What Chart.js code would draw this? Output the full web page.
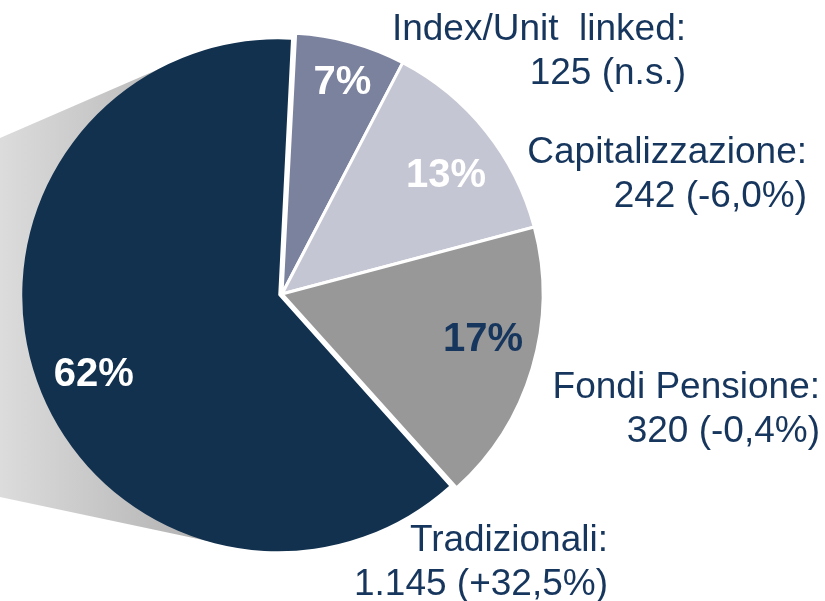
<!DOCTYPE html>
<html>
<head>
<meta charset="utf-8">
<script src="https://cdn.jsdelivr.net/npm/chart.js@4.4.1/dist/chart.umd.min.js"></script>
<style>
  html, body { margin: 0; padding: 0; background: #fff; }
  #wrap { width: 825px; height: 601px; position: relative; }
</style>
</head>
<body>
<div id="wrap"><canvas id="pieChart" width="825" height="601"></canvas></div>
<script>
// ─────────────────────────────────────────────
// Data
// ─────────────────────────────────────────────
const CATEGORIES = ["Index/Unit  linked:", "Capitalizzazione:", "Fondi Pensione:", "Tradizionali:"];
const VALUES     = [125, 242, 320, 1145];
const CHANGES    = ["n.s.", "-6,0%", "-0,4%", "+32,5%"];

// ─────────────────────────────────────────────
// Styles / layout
// ─────────────────────────────────────────────
const SLICE_COLORS  = ["#7B829E", "#C5C6D3", "#989898", "#11314F"];
const PCT_COLORS    = ["#FFFFFF", "#FFFFFF", "#17365D", "#FFFFFF"];
const SLICE_OFFSETS = [0, 0, 0, 16];  // Chart.js moves the arc by offset/4
const SLICE_BORDERS = [3, 3, 3, 0];
const SLICE_SHRINK  = [0, 0, 0, 9];   // the exploded slice is a bit smaller
const TEXT_COLOR    = "#17365D";
const FONT          = "'Liberation Sans', Arial, Helvetica, sans-serif";

// percentage label: fraction of radius + small angle nudge (deg)
const PCT_RADIUS = [0.84, 0.775, 0.79, 0.77];
const PCT_TURN   = [0.7, 2.9, -3.8, -3.9];
// category label: right edge x, first baseline y
const NAME_ANCHORS = [[686, 40], [807, 163], [820, 398], [608, 551]];
const LINE_GAP = 44;
// left "connector" shadow: where it leaves the page edge
const SHADOW_TOP = 138, SHADOW_BOTTOM = 497;

const fmtNum = v => String(v).replace(/\B(?=(\d{3})+(?!\d))/g, ".");

// round half to even (62.5 -> 62, as in the source)
function pct(v, total) {
  const x = v / total * 100;
  const f = Math.floor(x);
  if (Math.abs(x - f - 0.5) < 1e-9) return f % 2 === 0 ? f : f + 1;
  return Math.round(x);
}

// drawn arc centre and radius, incl. the explode offset
function arcGeom(el, i) {
  const mid = (el.startAngle + el.endAngle) / 2;
  const off = SLICE_OFFSETS[i] / 4;
  return {
    x: el.x + Math.cos(mid) * off,
    y: el.y + Math.sin(mid) * off,
    r: el.outerRadius + (SLICE_OFFSETS[i] ? off : 0),
    mid,
  };
}

const shrinkPlugin = {
  id: "shrink",
  afterDatasetsUpdate(chart) {
    chart.getDatasetMeta(0).data.forEach((el, i) => {
      if (SLICE_SHRINK[i]) el.outerRadius -= SLICE_SHRINK[i];
    });
  }
};

// ── grey connector behind the big slice ──
const shadowPlugin = {
  id: "shadow",
  beforeDatasetsDraw(chart) {
    const idx = VALUES.length - 1;
    const el = chart.getDatasetMeta(0).data[idx];
    if (!el) return;
    const c = arcGeom(el, idx);
    const r = c.r - 1;
    const tangent = (py, sign) => {
      const dx = c.x, dy = c.y - py;
      const d = Math.hypot(dx, dy);
      const a = Math.atan2(dy, dx) + sign * Math.asin(r / d);
      const len = Math.sqrt(d * d - r * r);
      return { x: Math.cos(a) * len, y: py + Math.sin(a) * len };
    };
    const t1 = tangent(SHADOW_TOP, -1);
    const t2 = tangent(SHADOW_BOTTOM, 1);
    const ctx = chart.ctx;
    ctx.save();
    const g = ctx.createLinearGradient(0, 0, 190, 0);
    g.addColorStop(0, "#DCDCDC");
    g.addColorStop(1, "#B4B4B4");
    ctx.fillStyle = g;
    ctx.beginPath();
    ctx.moveTo(0, SHADOW_TOP);
    ctx.lineTo(t1.x, t1.y);
    ctx.lineTo(c.x, c.y);
    ctx.lineTo(t2.x, t2.y);
    ctx.lineTo(0, SHADOW_BOTTOM);
    ctx.closePath();
    ctx.fill();
    ctx.restore();
  }
};

// ── percentages inside + category labels outside ──
const labelPlugin = {
  id: "labels",
  afterDatasetsDraw(chart) {
    const ctx = chart.ctx;
    const meta = chart.getDatasetMeta(0);
    const total = VALUES.reduce((a, b) => a + b, 0);
    ctx.save();
    meta.data.forEach((el, i) => {
      const c = arcGeom(el, i);
      const a = c.mid + PCT_TURN[i] * Math.PI / 180;
      const rr = (el.outerRadius + SLICE_SHRINK[i]) * PCT_RADIUS[i];
      ctx.font = `bold 40px ${FONT}`;
      ctx.fillStyle = PCT_COLORS[i];
      ctx.textAlign = "center";
      ctx.textBaseline = "middle";
      ctx.fillText(`${pct(VALUES[i], total)}%`, c.x + Math.cos(a) * rr, c.y + Math.sin(a) * rr);

      const [ax, ay] = NAME_ANCHORS[i];
      ctx.font = `37px ${FONT}`;
      ctx.fillStyle = TEXT_COLOR;
      ctx.textAlign = "right";
      ctx.textBaseline = "alphabetic";
      ctx.fillText(CATEGORIES[i], ax, ay);
      ctx.fillText(`${fmtNum(VALUES[i])} (${CHANGES[i]})`, ax, ay + LINE_GAP);
    });
    ctx.restore();
  }
};

new Chart(document.getElementById("pieChart"), {
  type: "pie",
  data: {
    labels: CATEGORIES,
    datasets: [{
      data:            VALUES,
      backgroundColor: SLICE_COLORS,
      borderColor:     "#FFFFFF",
      borderWidth:     SLICE_BORDERS,
      offset:          SLICE_OFFSETS,
    }]
  },
  options: {
    responsive: false,
    animation: false,
    events: [],
    devicePixelRatio: 1,
    rotation: 3,
    radius: 261,
    layout: { padding: { left: 0, right: 261, top: 0, bottom: 13 } },
    plugins: { legend: { display: false }, tooltip: { enabled: false } },
  },
  plugins: [shrinkPlugin, shadowPlugin, labelPlugin],
});
</script>
</body>
</html>
